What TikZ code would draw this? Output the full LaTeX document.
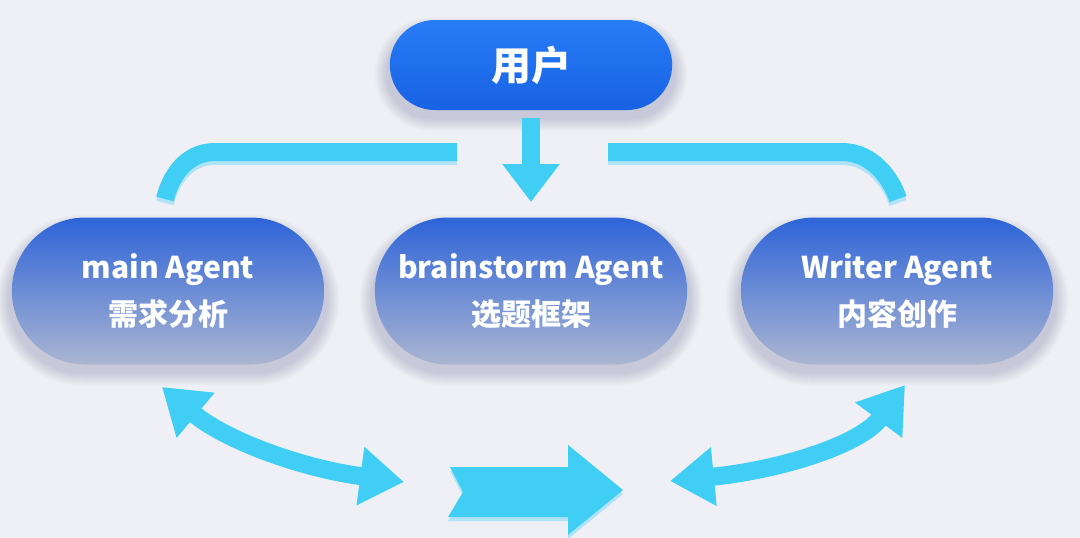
\documentclass[tikz,border=0pt]{standalone}
\usepackage{fontspec}
\newfontfamily\cjk{Noto Sans CJK SC}
\usepackage{tikz}
\usetikzlibrary{calc}
\usetikzlibrary{shapes}
\usetikzlibrary{arrows.meta}
\definecolor{bgc}{RGB}{238,240,246}
\definecolor{usertop}{RGB}{40,124,246}
\definecolor{userbot}{RGB}{24,98,228}
\definecolor{agenttop}{RGB}{46,100,216}
\definecolor{agentbot}{RGB}{170,181,210}
\definecolor{shadowc}{RGB}{60,70,110}
\definecolor{flowc}{RGB}{64,206,245}
\definecolor{flowglow}{RGB}{150,222,250}
\tikzset{
  userpill/.style={rounded rectangle, minimum width=289pt, minimum height=90pt, top color=usertop, bottom color=userbot, text=white, font=\cjk\bfseries\fontsize{40}{48}\selectfont},
  agentpill/.style={rounded rectangle, minimum width=319pt, minimum height=147pt, top color=agenttop, bottom color=agentbot, text=white, align=center, font=\cjk\bfseries\fontsize{30}{47}\selectfont},
  flow/.style={draw=flowc, line width=18pt},
  flowshade/.style={draw=flowglow, line width=18pt, opacity=0.7},
  onehead/.style={-{Triangle[length=38pt,width=55pt]}},
  twohead/.style={{Triangle[length=44pt,width=56pt]}-{Triangle[length=44pt,width=56pt]}},
}
% soft shadow under a pill: x, y, width, height
\newcommand{\pillshadow}[4]{
  \foreach \k in {0,...,12}{
    \pgfmathsetmacro{\rr}{#4/2+\k}
    \fill[shadowc,opacity=0.014,rounded corners=\rr pt] ({#1-#3/2-\k},{#2-#4/2+9-\k}) rectangle ({#1+#3/2+\k},{#2+#4/2+9+\k});
  }
}
\newcommand{\agent}[4]{\pillshadow{#2}{#3}{319}{147}\node[agentpill] (#1) at (#2,#3) {#4};}
\begin{document}
\begin{tikzpicture}[x=1pt,y=-1pt]
  \useasboundingbox (0,0) rectangle (1080,538);
  \fill[bgc] (0,0) rectangle (1080,538);

  % nodes
  \pillshadow{531}{65}{289}{90}
  \node[userpill] (user) at (531,65) {用户};
  \agent{main}{168}{291}{main Agent\\需求分析}
  \agent{brain}{531}{291}{brainstorm Agent\\选题框架}
  \agent{writer}{897}{291}{Writer Agent\\内容创作}

  % top connectors
  \coordinate (lb1) at (457,152);
  \coordinate (lb2) at (215,152);
  \coordinate (lb3) at (165,199);
  \coordinate (rb1) at (608,152);
  \coordinate (rb2) at (842,152);
  \coordinate (rb3) at (898,199);
  \coordinate (dn1) at ($(user.south)+(0,8)$);
  \coordinate (dn2) at (531,202);
  \draw[flowshade] ([yshift=-4pt]lb1) -- ([yshift=-4pt]lb2) .. controls ([yshift=-4pt]185,152) and ([yshift=-4pt]170,178) .. ([yshift=-4pt]lb3);
  \draw[flowshade] ([yshift=-4pt]rb1) -- ([yshift=-4pt]rb2) .. controls ([yshift=-4pt]872,152) and ([yshift=-4pt]891,178) .. ([yshift=-4pt]rb3);
  \draw[flow] (lb1) -- (lb2) .. controls (185,152) and (170,178) .. (lb3);
  \draw[flow] (rb1) -- (rb2) .. controls (872,152) and (891,178) .. (rb3);
  \draw[flow,onehead] (dn1) -- (dn2);

  % bottom connectors
  \coordinate (ml1) at (162,387);
  \coordinate (ml2) at (404,482);
  \coordinate (mr1) at (670,481);
  \coordinate (mr2) at (905,385);
  \draw[flow,twohead] (ml1) .. controls (225,440) and (300,468) .. (ml2);
  \draw[flow,twohead] (mr1) .. controls (780,470) and (860,445) .. (mr2);
  \fill[flowglow,opacity=0.7] (450,471) -- (568,471) -- (568,449) -- (623,494) -- (568,539) -- (568,521) -- (448,521) -- (463,496) -- cycle;
  \fill[flowc] (450,467) -- (568,467) -- (568,445) -- (623,490) -- (568,535) -- (568,517) -- (448,517) -- (463,492) -- cycle;
\end{tikzpicture}
\end{document}
